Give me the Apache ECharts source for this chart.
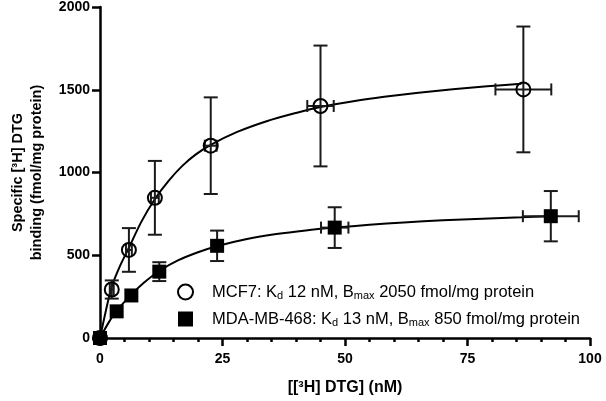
<!DOCTYPE html>
<html>
<head>
<meta charset="utf-8">
<script src="https://cdn.jsdelivr.net/npm/echarts@6/dist/echarts.min.js"></script>
<style>html,body{margin:0;padding:0;background:#fff}#c{width:606px;height:401px}</style>
</head>
<body>
<div id="c"></div>
<script>
// ---- data ----
const mcf7X    = [0, 2.4, 5.9, 11.2, 22.6, 45.0, 86.4];
const mcf7Y    = [0, 293, 532, 847, 1162, 1402, 1502];
const mcf7XErr = [0, 0.4, 0.6, 0.8, 1.2, 2.7, 5.7];
const mcf7YErr = [0, 55, 132, 223, 292, 365, 380];

const mdaX    = [0, 3.4, 6.4, 12.1, 23.9, 47.9, 92.0];
const mdaY    = [0, 161, 257, 401, 557, 667, 736];
const mdaXErr = [0, 0, 0, 0, 0.6, 2.8, 5.7];
const mdaYErr = [0, 0, 0, 57, 92, 123, 152];

// fitted curves
const mcf7FitX = [0, 1.2, 2.4, 4, 5.9, 8.4, 11.2, 14, 16.8, 19.5, 22.6, 28, 34, 40, 45, 52, 58, 65, 72, 79, 86];
const mcf7FitY = [0, 165, 310, 430, 545, 700, 840, 950, 1040, 1108, 1167, 1245, 1310, 1360, 1396, 1432, 1457, 1482, 1503, 1521, 1536];
const mdaFitX  = [0, 1.7, 3.4, 6.4, 9, 12.1, 16, 20, 24, 30, 36, 42, 48, 55, 62, 70, 78, 86, 92];
const mdaFitY  = [0, 90, 165, 262, 335, 405, 470, 518, 556, 598, 628, 650, 667, 684, 698, 711, 721, 729, 736];

const xTickInterval = 25, xMax = 100;
const yTickInterval = 500, yMax = 2000;

const legendText = {
  'MCF7': 'MCF7: K{sub|d} 12 nM, B{sub|max} 2050 fmol/mg protein',
  'MDA-MB-468': 'MDA-MB-468: K{sub|d} 13 nM, B{sub|max} 850 fmol/mg protein'
};

const zip = (a, b) => a.map((v, i) => [v, b[i]]);
const errData = (x, y, xe, ye) => x.map((v, i) => [v, y[i], xe[i], ye[i]]);

function errRender(params, api) {
  const x = api.value(0), y = api.value(1), xe = api.value(2), ye = api.value(3);
  const children = [];
  const st = {stroke: '#1a1a1a', lineWidth: 2};
  if (ye > 0) {
    const t = api.coord([x, y + ye]), b = api.coord([x, y - ye]);
    children.push({type: 'line', shape: {x1: t[0], y1: t[1], x2: b[0], y2: b[1]}, style: st});
    children.push({type: 'line', shape: {x1: t[0] - 7, y1: t[1], x2: t[0] + 7, y2: t[1]}, style: st});
    children.push({type: 'line', shape: {x1: b[0] - 7, y1: b[1], x2: b[0] + 7, y2: b[1]}, style: st});
  }
  if (xe > 0) {
    const l = api.coord([x - xe, y]), r = api.coord([x + xe, y]);
    children.push({type: 'line', shape: {x1: l[0], y1: l[1], x2: r[0], y2: r[1]}, style: st});
    children.push({type: 'line', shape: {x1: l[0], y1: l[1] - 6, x2: l[0], y2: l[1] + 6}, style: st});
    children.push({type: 'line', shape: {x1: r[0], y1: r[1] - 6, x2: r[0], y2: r[1] + 6}, style: st});
  }
  return {type: 'group', children};
}

const chart = echarts.init(document.getElementById('c'), null, {renderer: 'canvas'});
const boldLabel = {color: '#000', fontFamily: 'Liberation Sans, Arial', fontWeight: 'bold', fontSize: 14};

chart.setOption({
  animation: false,
  backgroundColor: '#fff',
  grid: {left: 91, right: 16, top: 5, bottom: 61, containLabel: false},
  xAxis: {
    type: 'value', min: 0, max: xMax, interval: xTickInterval,
    name: '[[³H] DTG] (nM)', nameLocation: 'middle', nameGap: 42,
    nameTextStyle: Object.assign({}, boldLabel, {fontSize: 16}),
    axisLine: {show: true, onZero: false, lineStyle: {color: '#000', width: 2.5}},
    axisTick: {show: true, length: 8, lineStyle: {color: '#000', width: 2.5}},
    minorTick: {show: true, splitNumber: 5, length: 4, lineStyle: {color: '#000', width: 2.5}},
    axisLabel: Object.assign({margin: 14}, boldLabel),
    splitLine: {show: false}
  },
  yAxis: {
    type: 'value', min: 0, max: yMax, interval: yTickInterval,
    name: 'Specific [³H] DTG\nbinding (fmol/mg protein)', nameLocation: 'middle', nameGap: 54,
    nameTextStyle: Object.assign({}, boldLabel, {fontSize: 14.5, lineHeight: 19}),
    axisLine: {show: true, onZero: false, lineStyle: {color: '#000', width: 2.5}},
    axisTick: {show: true, length: 8, lineStyle: {color: '#000', width: 2.5}},
    axisLabel: Object.assign({margin: 10, formatter: v => String(v)}, boldLabel),
    splitLine: {show: false}
  },
  legend: {
    orient: 'vertical', left: 172, top: 276, itemWidth: 15, itemHeight: 15, itemGap: 7,
    data: [
      {name: 'MCF7', icon: 'circle', itemStyle: {color: '#fff', borderColor: '#000', borderWidth: 2}},
      {name: 'MDA-MB-468', icon: 'rect', itemStyle: {color: '#000', borderWidth: 0}}
    ],
    formatter: n => legendText[n],
    textStyle: {
      color: '#000', fontFamily: 'Liberation Sans, Arial', fontSize: 16.5, padding: [0, 0, 0, 14], lineHeight: 18,
      rich: {sub: {fontSize: 11, fontFamily: 'Liberation Sans, Arial', color: '#000', verticalAlign: 'bottom', lineHeight: 10, padding: [9, 0, 0, 0]}}
    }
  },
  series: [
    {type: 'line', data: zip(mcf7FitX, mcf7FitY), smooth: 0.3, symbol: 'none', lineStyle: {color: '#000', width: 2}, z: 1, silent: true},
    {type: 'line', data: zip(mdaFitX, mdaFitY), smooth: 0.3, symbol: 'none', lineStyle: {color: '#000', width: 2}, z: 1, silent: true},
    {type: 'custom', data: errData(mcf7X, mcf7Y, mcf7XErr, mcf7YErr), renderItem: errRender, z: 2, silent: true},
    {type: 'custom', data: errData(mdaX, mdaY, mdaXErr, mdaYErr), renderItem: errRender, z: 2, silent: true},
    {name: 'MCF7', type: 'scatter', data: zip(mcf7X, mcf7Y), symbol: 'circle', symbolSize: 14,
     itemStyle: {color: 'rgba(0,0,0,0)', borderColor: '#000', borderWidth: 2, opacity: 1}, z: 3},
    {name: 'MDA-MB-468', type: 'scatter', data: zip(mdaX, mdaY), symbol: 'rect', symbolSize: 14,
     itemStyle: {color: '#000', opacity: 1}, z: 3}
  ]
});
</script>
</body>
</html>
